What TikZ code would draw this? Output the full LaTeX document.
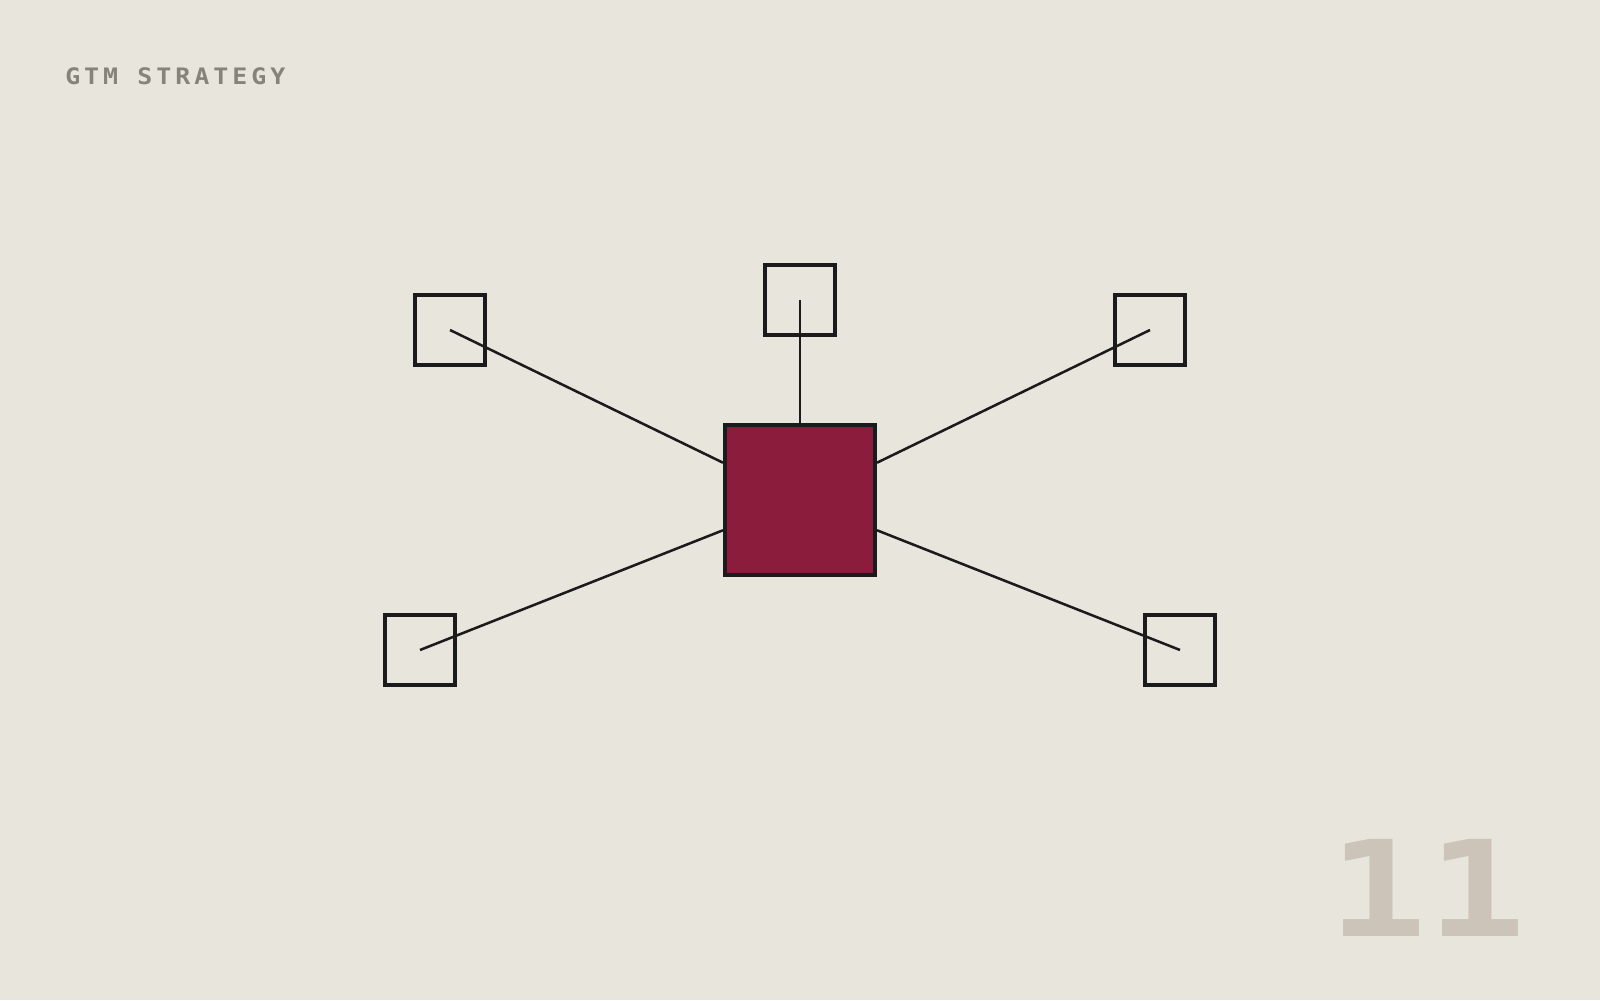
\documentclass[tikz,border=0pt]{standalone}
\usepackage{fontspec}
\newfontfamily\labelfont[LetterSpace=16]{DejaVu Sans Mono Bold}
\newfontfamily\pagefont{DejaVu Sans Mono Bold}
\definecolor{paper}{HTML}{E8E6DC}
\definecolor{ink}{HTML}{1B1A1D}
\definecolor{crimson}{HTML}{8B1C3C}
\definecolor{slate}{HTML}{86837A}
\definecolor{sand}{HTML}{CCC4B8}
\tikzset{
  leaf/.style={draw=ink, line width=2.6pt, minimum size=52.5pt, inner sep=0pt},
  hubbox/.style={draw=ink, fill=crimson, line width=3pt, minimum size=112.5pt, inner sep=0pt},
  spoke/.style={draw=ink, line width=1.9pt}
}

\begin{document}
\begin{tikzpicture}[x=0.75pt,y=0.75pt,yscale=-1,xscale=1]
\fill [paper] (0,0) rectangle (1600,1000);
\useasboundingbox (0,0) rectangle (1600,1000);
% boxes
\node [leaf] (top) at (800,300) {};
\node [leaf] (tl) at (450,330) {};
\node [leaf] (tr) at (1150,330) {};
\node [leaf] (bl) at (420,650) {};
\node [leaf] (br) at (1180,650) {};
\node [hubbox] (hub) at (800,500) {};
% spokes
\draw [spoke] (top.center) -- (hub);
\draw [spoke] (tl.center) -- (hub);
\draw [spoke] (tr.center) -- (hub);
\draw [spoke] (bl.center) -- (hub);
\draw [spoke] (br.center) -- (hub);
% texts
\draw (65,84.3) node [anchor=base west][inner sep=0pt][text=slate]  {\scalebox{1.1}[1]{\labelfont\fontsize{17pt}{17pt}\selectfont GTM STRATEGY}};
\draw (1328,936) node [anchor=base west][inner sep=0pt][text=sand]  {\scalebox{1.23}[1]{\pagefont\fontsize{100pt}{100pt}\selectfont 11}};
\end{tikzpicture}
\end{document}
